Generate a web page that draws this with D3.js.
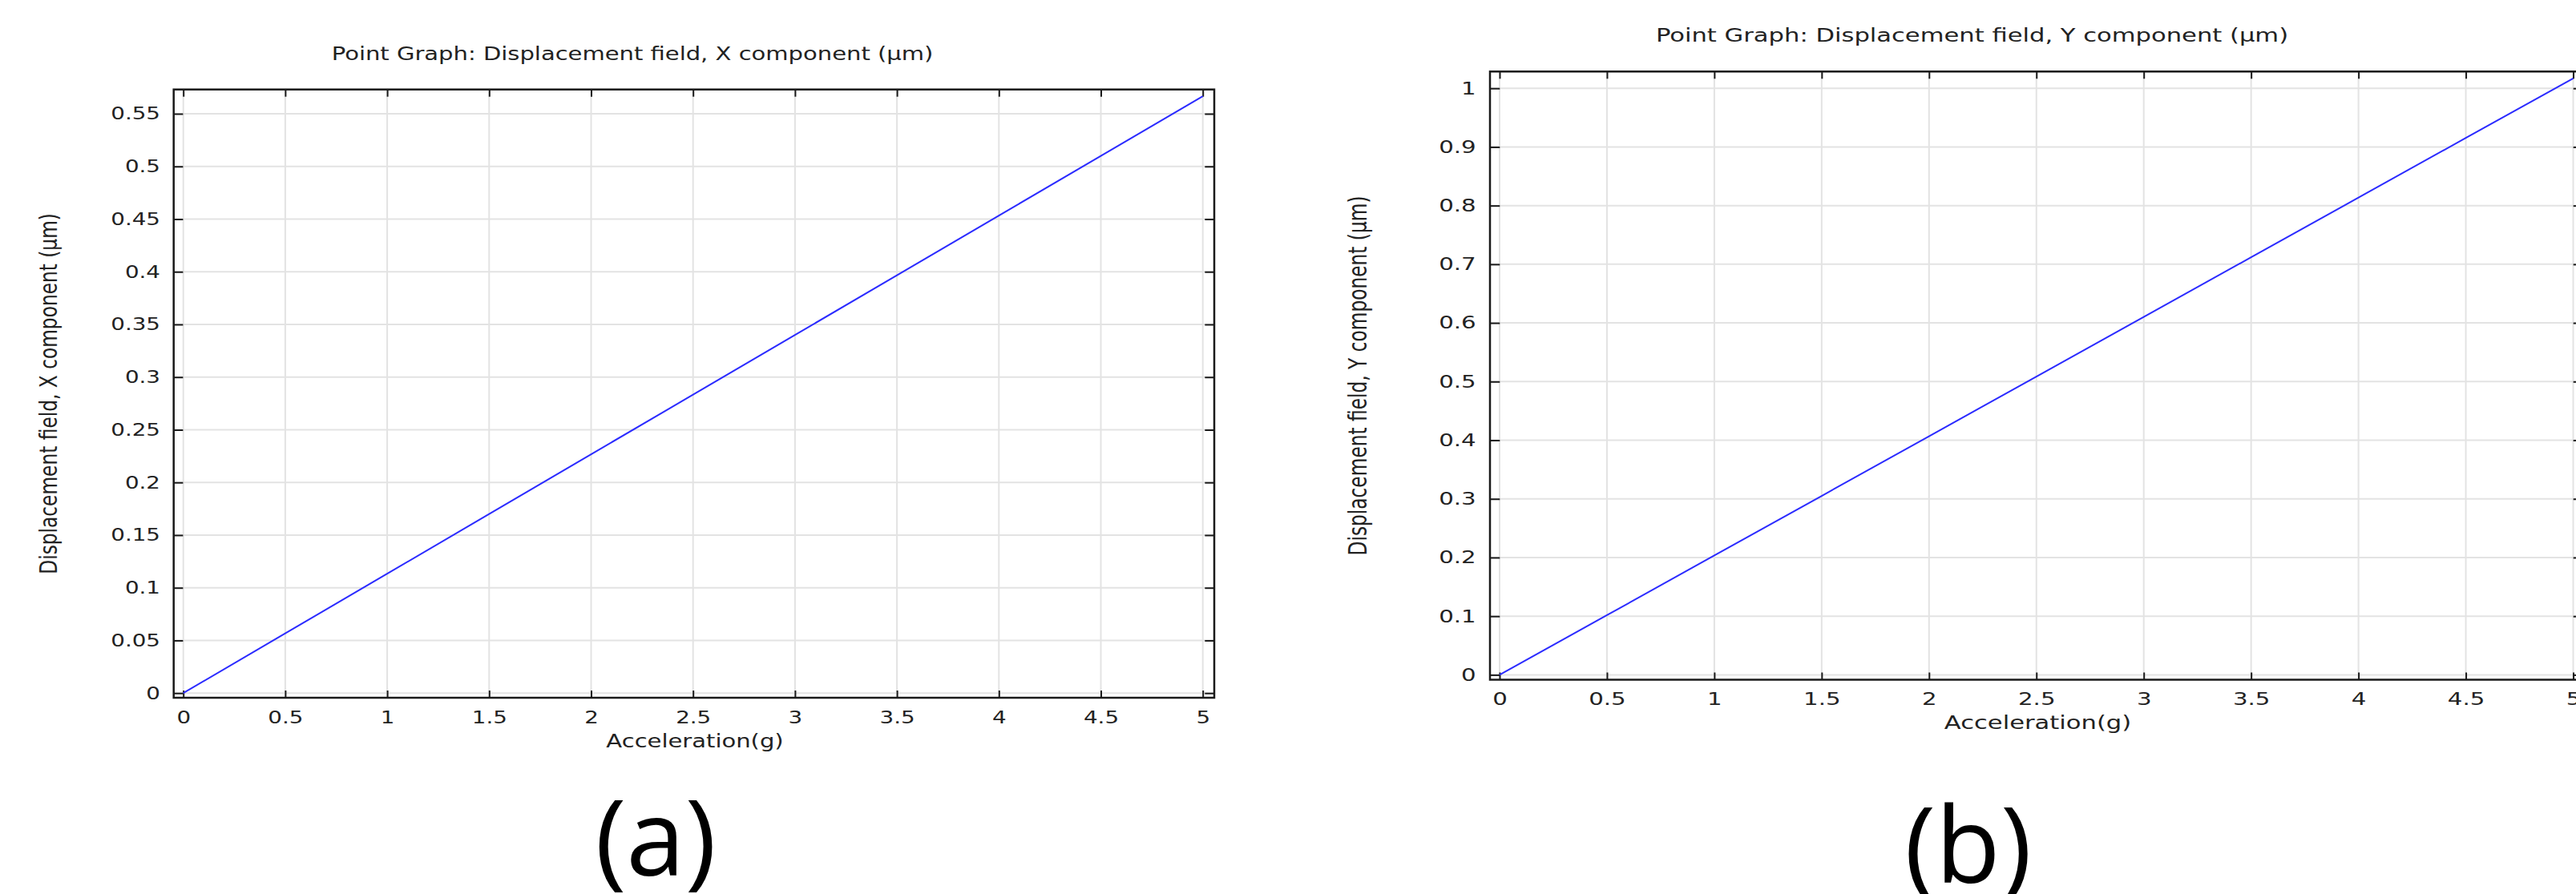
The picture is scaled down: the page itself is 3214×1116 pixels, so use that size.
<!DOCTYPE html>
<html><head><meta charset="utf-8">
<script src="https://cdn.jsdelivr.net/npm/d3@7"></script>
<style>body{margin:0;background:#fff;} svg{display:block;}</style>
</head><body>
<svg id="c" width="3214" height="1116"></svg>
<script>
// ---- data ----
const acceleration = [0, 0.5, 1, 1.5, 2, 2.5, 3, 3.5, 4, 4.5, 5];
const dispX = [0, 0.0567, 0.1133, 0.1700, 0.2267, 0.2833, 0.3400, 0.3967, 0.4533, 0.5100, 0.5667];
const dispY = [0, 0.1017, 0.2034, 0.3051, 0.4068, 0.5085, 0.6102, 0.7119, 0.8136, 0.9153, 1.017];
const xTicks = [0, 0.5, 1, 1.5, 2, 2.5, 3, 3.5, 4, 4.5, 5];
const yTicksA = [0, 0.05, 0.1, 0.15, 0.2, 0.25, 0.3, 0.35, 0.4, 0.45, 0.5, 0.55];
const yTicksB = [0, 0.1, 0.2, 0.3, 0.4, 0.5, 0.6, 0.7, 0.8, 0.9, 1];
const titles = ["Point Graph: Displacement field, X component (µm)", "Point Graph: Displacement field, Y component (µm)"];
const yLabels = ["Displacement field, X component (µm)", "Displacement field, Y component (µm)"];
const xLabel = "Acceleration(g)";
const panelLabels = ["(a)", "(b)"];

// ---- layout ----
const panels = [
  { values: dispX, yTicks: yTicksA, yMax: 0.55, title: titles[0], yLabel: yLabels[0], panel: panelLabels[0],
    frame: {l: 216.7, r: 1515, t: 111.7, b: 871}, xRange: [228.7, 1500.7], yRange: [865.2, 142],
    sx: 1.29, titlePos: [789, 75], yLabelPos: [71, 491.4], xLabelPos: [867, 932.7],
    padL: 16.7, padB: 16.4, tickH: 11.7, tickV: 9, panelPos: [818, 1093] },
  { values: dispY, yTicks: yTicksB, yMax: 1, title: titles[1], yLabel: yLabels[1], panel: panelLabels[1],
    frame: {l: 1859, r: 3223, t: 89.3, b: 848.5}, xRange: [1871, 3210.5], yRange: [842.4, 110.2],
    sx: 1.36, titlePos: [2460.5, 52.3], yLabelPos: [1705, 469], xLabelPos: [2542.5, 910],
    padL: 17.3, padB: 16.2, tickH: 12.3, tickV: 9, panelPos: [2455.5, 1101.7] }
];

const svg = d3.select("#c");
const FONT = "DejaVu Sans";
const fmt = d => String(d);

panels.forEach(p => {
  const g = svg.append("g");
  const x = d3.scaleLinear().domain([0, 5]).range(p.xRange);
  const y = d3.scaleLinear().domain([0, p.yMax]).range(p.yRange);
  const f = p.frame;

  // grid
  g.append("g").selectAll("line").data(xTicks).join("line")
    .attr("x1", d => x(d)).attr("x2", d => x(d)).attr("y1", f.t).attr("y2", f.b)
    .attr("stroke", "#e3e3e3").attr("stroke-width", 2);
  g.append("g").selectAll("line").data(p.yTicks).join("line")
    .attr("y1", d => y(d)).attr("y2", d => y(d)).attr("x1", f.l).attr("x2", f.r)
    .attr("stroke", "#e3e3e3").attr("stroke-width", 2);

  // frame
  g.append("rect").attr("x", f.l).attr("y", f.t).attr("width", f.r - f.l).attr("height", f.b - f.t)
    .attr("fill", "none").attr("stroke", "#1a1a1a").attr("stroke-width", 2.5);

  const style = (sel) => {
    sel.select(".domain").remove();
    sel.selectAll(".tick line").attr("stroke", "#1a1a1a").attr("stroke-width", 2);
    sel.attr("font-family", FONT).attr("font-size", 21.5);
    sel.selectAll(".tick text").attr("fill", "#222");
  };

  // left axis
  const gl = g.append("g").attr("transform", `translate(${f.l},0)`)
    .call(d3.axisLeft(y).tickValues(p.yTicks).tickSize(-p.tickH).tickPadding(p.padL).tickFormat(fmt));
  style(gl);
  gl.selectAll(".tick text").attr("x", -p.padL / p.sx).attr("transform", `scale(${p.sx},1)`);

  // right axis
  const gr = g.append("g").attr("transform", `translate(${f.r},0)`)
    .call(d3.axisRight(y).tickValues(p.yTicks).tickSize(-p.tickH).tickFormat(""));
  style(gr);

  // top axis
  const gt = g.append("g").attr("transform", `translate(0,${f.t})`)
    .call(d3.axisTop(x).tickValues(xTicks).tickSize(-p.tickV).tickFormat(""));
  style(gt);

  // bottom axis
  const gb = g.append("g").attr("transform", `translate(0,${f.b})`)
    .call(d3.axisBottom(x).tickValues(xTicks).tickSize(-p.tickV).tickPadding(p.padB).tickFormat(fmt));
  style(gb);
  gb.selectAll(".tick text").attr("transform", `scale(${p.sx},1)`);

  // data line
  const line = d3.line().x((d, i) => x(acceleration[i])).y(d => y(d));
  g.append("path").datum(p.values).attr("d", line)
    .attr("fill", "none").attr("stroke", "#2b2bff").attr("stroke-width", 2);

  // title
  g.append("text").attr("transform", `translate(${p.titlePos[0]},${p.titlePos[1]}) scale(${p.sx},1)`)
    .attr("text-anchor", "middle").attr("font-family", FONT).attr("font-size", 22.5).attr("fill", "#222")
    .text(p.title);

  // x label
  g.append("text").attr("transform", `translate(${p.xLabelPos[0]},${p.xLabelPos[1]}) scale(${p.sx},1)`)
    .attr("text-anchor", "middle").attr("font-family", FONT).attr("font-size", 22.5).attr("fill", "#222")
    .text(xLabel);

  // y label
  g.append("text").attr("transform", `translate(${p.yLabelPos[0]},${p.yLabelPos[1]}) rotate(-90) scale(1,${p.sx})`)
    .attr("text-anchor", "middle").attr("font-family", FONT).attr("font-size", 23.3).attr("fill", "#222")
    .text(p.yLabel);

  // panel label
  g.append("text").attr("x", p.panelPos[0]).attr("y", p.panelPos[1])
    .attr("text-anchor", "middle").attr("font-family", "Open Sans").attr("font-size", 132).attr("fill", "#000")
    .text(p.panel);
});
</script>
</body></html>
